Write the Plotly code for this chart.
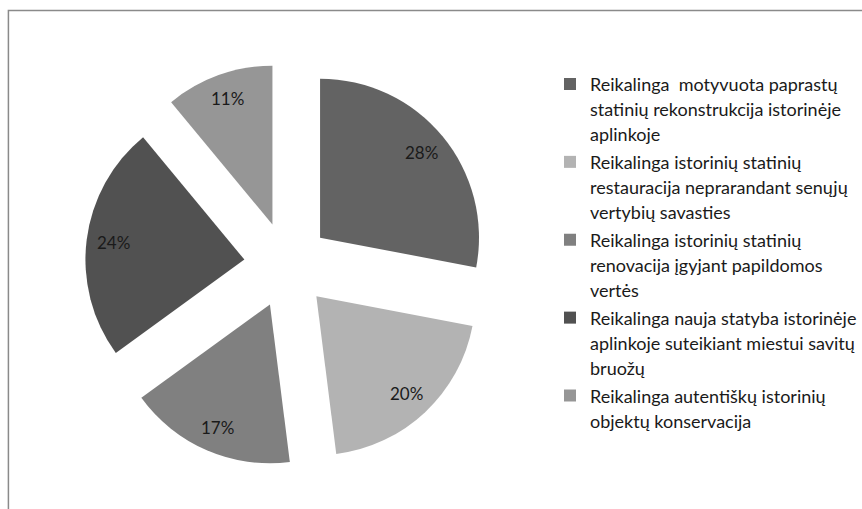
import math
import plotly.graph_objects as go

# Survey answers: share of respondents per position
categories = [
    "Reikalinga  motyvuota paprastų<br>statinių rekonstrukcija istorinėje<br>aplinkoje",
    "Reikalinga istorinių statinių<br>restauracija neprarandant senųjų<br>vertybių savasties",
    "Reikalinga istorinių statinių<br>renovacija įgyjant papildomos<br>vertės",
    "Reikalinga nauja statyba istorinėje<br>aplinkoje suteikiant miestui savitų<br>bruožų",
    "Reikalinga autentiškų istorinių<br>objektų konservacija",
]
values = [28, 20, 17, 24, 11]
colors = ["#636363", "#b3b3b3", "#808080", "#515151", "#969696"]

W, H = 862, 509
PULL = 0.27
LABEL_R = 0.83          # label distance from the (pulled) slice tip, as a fraction of radius
LEGEND_PX = 18          # drawn size of legend text
LEGEND_BASE = 19.2      # base legend size, sets the line pitch

# pie domain in pixels
dx0, dx1, dy0, dy1 = 86, 494, 61, 469


def legend_text(s):
    return "<br>".join(
        f"<span style='font-size:{LEGEND_PX}px'>{part}</span>" for part in s.split("<br>")
    )


fig = go.Figure(
    go.Pie(
        labels=[legend_text(c) for c in categories],
        values=values,
        sort=False,
        direction="clockwise",
        rotation=0,
        pull=[PULL] * len(values),
        marker=dict(colors=colors, line=dict(width=0)),
        textinfo="none",
        hoverinfo="percent",
        domain=dict(x=[dx0 / W, dx1 / W], y=[1 - dy1 / H, 1 - dy0 / H]),
    )
)

# percentage labels placed along each slice bisector
cx, cy = (dx0 + dx1) / 2, (dy0 + dy1) / 2
r = min(dx1 - dx0, dy1 - dy0) / (2 + 2 * PULL)
total = sum(values)
start = 0.0
for v in values:
    frac = v / total
    mid = (start + frac / 2) * 2 * math.pi
    start += frac
    dist = r * PULL + r * LABEL_R
    px = cx + dist * math.sin(mid)
    py = cy - dist * math.cos(mid)
    fig.add_annotation(
        x=px / W, y=1 - py / H, xref="paper", yref="paper",
        text=f"{round(frac * 100)}%", showarrow=False,
        xanchor="center", yanchor="middle",
        font=dict(family="Lato", size=17, color="#1a1a1a"),
    )

# Outer frame of the chart area
fig.add_shape(
    type="rect", xref="paper", yref="paper",
    x0=8.5 / W, x1=1.05, y0=-0.05, y1=1 - 10.5 / H,
    line=dict(color="#8a8a8a", width=1.5),
    fillcolor="rgba(0,0,0,0)", layer="below",
)

fig.update_layout(
    width=W,
    height=H,
    margin=dict(l=0, r=0, t=0, b=0),
    paper_bgcolor="white",
    plot_bgcolor="white",
    showlegend=True,
    legend=dict(
        x=556 / W, xanchor="left",
        y=1 - 65 / H, yanchor="top",
        valign="top",
        font=dict(family="Lato", size=LEGEND_BASE, color="#1a1a1a"),
        bgcolor="rgba(0,0,0,0)",
    ),
)

fig.write_html("out.html")
